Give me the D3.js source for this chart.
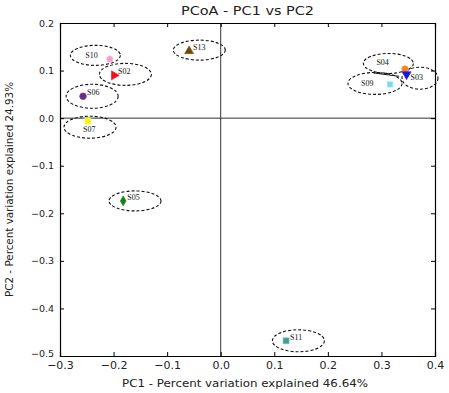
<!DOCTYPE html>
<html>
<head>
<meta charset="utf-8">
<script src="https://cdn.jsdelivr.net/npm/d3@7"></script>
<style>
body { margin: 0; background: #fff; }
text { font-family: "DejaVu Sans", sans-serif; }
.lbl { font-family: "Liberation Serif", "DejaVu Serif", serif; font-size: 8px; }
</style>
</head>
<body>
<div id="chart"></div>
<script>
// dados das amostras
const samples = ["S10", "S02", "S06", "S07", "S13", "S04", "S03", "S09", "S05", "S11"];
const pc1 = [-0.207, -0.199, -0.257, -0.248, -0.059, 0.344, 0.347, 0.316, -0.182, 0.122];
const pc2 = [0.124, 0.090, 0.046, -0.006, 0.141, 0.103, 0.092, 0.071, -0.174, -0.468];
const shapes = ["circle", "triangleRight", "circle", "square", "triangle", "circle", "triangleDown", "square", "diamond", "square"];
const colors = ["#f2a3c4", "#e8161b", "#6a2c80", "#f2f020", "#6b4a12", "#f08020", "#1a1acc", "#85d2f2", "#1a7a1a", "#4a9a90"];
// centro das elipses (unidades dos dados)
const ellX = [-0.234, -0.178, -0.240, -0.244, -0.040, 0.313, 0.372, 0.288, -0.160, 0.145];
const ellY = [0.132, 0.092, 0.046, -0.019, 0.143, 0.115, 0.084, 0.073, -0.174, -0.468];

const xTicks = [-0.3, -0.2, -0.1, 0.0, 0.1, 0.2, 0.3, 0.4];
const yTicks = [0.2, 0.1, 0.0, -0.1, -0.2, -0.3, -0.4, -0.5];

const W = 449, H = 393;
const svg = d3.select("#chart").append("svg").attr("width", W).attr("height", H);

const x = d3.scaleLinear().domain([-0.3, 0.4]).range([60, 435]);
const y = d3.scaleLinear().domain([-0.5, 0.2]).range([356, 23]);

const fmt = d => d3.format(".1f")(d).replace("-", "\u2212");

// linhas do zero
svg.append("line").attr("x1", x(0)).attr("x2", x(0)).attr("y1", y(0.2)).attr("y2", y(-0.5))
    .attr("stroke", "#333").attr("stroke-width", 1);
svg.append("line").attr("x1", x(-0.3)).attr("x2", x(0.4)).attr("y1", y(0)).attr("y2", y(0))
    .attr("stroke", "#333").attr("stroke-width", 1);

// eixos
const gx = svg.append("g").attr("transform", `translate(0,${y(-0.5)})`)
    .call(d3.axisBottom(x).tickValues(xTicks).tickSize(-4).tickPadding(5).tickFormat(fmt));
svg.append("g").attr("transform", `translate(0,${y(0.2)})`)
    .call(d3.axisTop(x).tickValues(xTicks).tickSize(-4).tickFormat(""));
const gy = svg.append("g").attr("transform", `translate(${x(-0.3)},0)`)
    .call(d3.axisLeft(y).tickValues(yTicks).tickSize(-4).tickPadding(6).tickFormat(fmt));
svg.append("g").attr("transform", `translate(${x(0.4)},0)`)
    .call(d3.axisRight(y).tickValues(yTicks).tickSize(-4).tickFormat(""));

svg.selectAll(".domain").attr("stroke", "#000").attr("stroke-width", 1.2);
svg.selectAll(".tick line").attr("stroke", "#000");
gx.selectAll(".tick text").attr("font-size", 11).attr("fill", "#222").attr("font-family", "DejaVu Sans, sans-serif");
gy.selectAll(".tick text").attr("font-size", 9.5).attr("fill", "#222").attr("font-family", "DejaVu Sans, sans-serif");
gy.selectAll(".tick").filter(d => d === -0.5).select("text").attr("dy", "0.1em");

// titulos
svg.append("text").attr("x", (x(-0.3) + x(0.4)) / 2).attr("y", 15).attr("text-anchor", "middle")
    .attr("font-size", 12.5).attr("fill", "#222")
    .attr("textLength", 133).attr("lengthAdjust", "spacingAndGlyphs")
    .text("PCoA - PC1 vs PC2");
svg.append("text").attr("x", 245).attr("y", 387).attr("text-anchor", "middle")
    .attr("font-size", 11).attr("fill", "#222")
    .attr("textLength", 246).attr("lengthAdjust", "spacingAndGlyphs")
    .text("PC1 - Percent variation explained 46.64%");
svg.append("text").attr("transform", `translate(13,${(y(0.2) + y(-0.5)) / 2}) rotate(-90)`)
    .attr("text-anchor", "middle").attr("font-size", 11).attr("fill", "#222")
    .attr("textLength", 215).attr("lengthAdjust", "spacingAndGlyphs")
    .text("PC2 - Percent variation explained 24.93%");

// elipses tracejadas
const rx = [25, 26, 26, 26, 26, 25, 18, 27, 26, 26];
const ry = [10, 11, 12, 11, 10, 10, 11, 11, 10, 11];
svg.selectAll(".ell").data(samples).enter().append("ellipse")
    .attr("cx", (d, i) => x(ellX[i])).attr("cy", (d, i) => y(ellY[i]))
    .attr("rx", (d, i) => rx[i]).attr("ry", (d, i) => ry[i])
    .attr("fill", "none").attr("stroke", "#111").attr("stroke-width", 1.1)
    .attr("stroke-dasharray", "3,2");

// linha de ligação S04
svg.append("line").attr("x1", x(0.285)).attr("y1", y(0.095)).attr("x2", x(0.333)).attr("y2", y(0.088))
    .attr("stroke", "#111").attr("stroke-width", 1);

// marcadores
const symMap = {
    circle: d3.symbolCircle, square: d3.symbolSquare, triangle: d3.symbolTriangle,
    diamond: d3.symbolDiamond, triangleRight: d3.symbolTriangle, triangleDown: d3.symbolTriangle
};
const rot = { triangleRight: 90, triangleDown: 180 };
svg.selectAll(".pt").data(samples).enter().append("path")
    .attr("d", (d, i) => d3.symbol().type(symMap[shapes[i]]).size(shapes[i] === "diamond" ? 28 : 34)())
    .attr("transform", (d, i) => `translate(${x(pc1[i])},${y(pc2[i])}) rotate(${rot[shapes[i]] || 0})`)
    .attr("fill", (d, i) => colors[i])
    .attr("stroke", (d, i) => d3.color(colors[i]).brighter(0.6))
    .attr("stroke-width", 0.8);

// rótulos
svg.selectAll(".lbl").data(samples).enter().append("text")
    .attr("class", "lbl")
    .attr("x", (d, i) => {
        if (d === "S10") return x(ellX[i]) - 10;
        if (d === "S07") return x(ellX[i]) - 7;
        if (d === "S04") return x(ellX[i]) - 12;
        if (d === "S09") return x(ellX[i]) - 14;
        return x(pc1[i]) + 4;
    })
    .attr("y", (d, i) => {
        if (d === "S07") return y(pc2[i]) + 11;
        if (d === "S03") return y(pc2[i]) + 6;
        if (d === "S04") return y(ellY[i]) + 2;
        if (d === "S09") return y(ellY[i]) + 3;
        if (d === "S10") return y(ellY[i]) + 3;
        return y(pc2[i]) - 1;
    })
    .attr("fill", "#111")
    .text(d => d);
</script>
</body>
</html>
